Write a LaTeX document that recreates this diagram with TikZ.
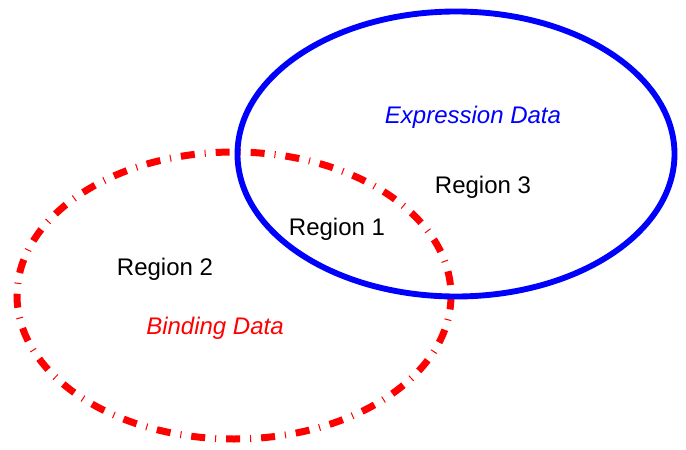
\documentclass[tikz,border=0pt]{standalone}
\usepackage{fontspec}
\setmainfont{Liberation Sans}
\begin{document}
\begin{tikzpicture}[x=0.75pt,y=-0.75pt,
  lbl/.style={font=\fontsize{18}{21}\selectfont, inner sep=0pt},
  binding/.style={draw=red, line width=5.25pt, dash pattern=on 10.5pt off 7.5pt on 0.75pt off 7.5pt},
  expression/.style={draw=blue, line width=4.4pt}]
\useasboundingbox (0,0) rectangle (686,450);
\draw[binding] (234,295.5) ellipse [x radius=217, y radius=143.5];
\draw[expression] (456,154) ellipse [x radius=218.5, y radius=142.5];
\node[lbl, text=blue, font=\fontsize{18}{21}\selectfont\itshape] (expr) at (473,117) {Expression Data};
\node[lbl] (r3) at (483,187) {Region 3};
\node[lbl] (r1) at (337,229) {Region 1};
\node[lbl] (r2) at (165,269) {Region 2};
\node[lbl, text=red, font=\fontsize{18}{21}\selectfont\itshape] (bind) at (215,328) {Binding Data};
\end{tikzpicture}
\end{document}
